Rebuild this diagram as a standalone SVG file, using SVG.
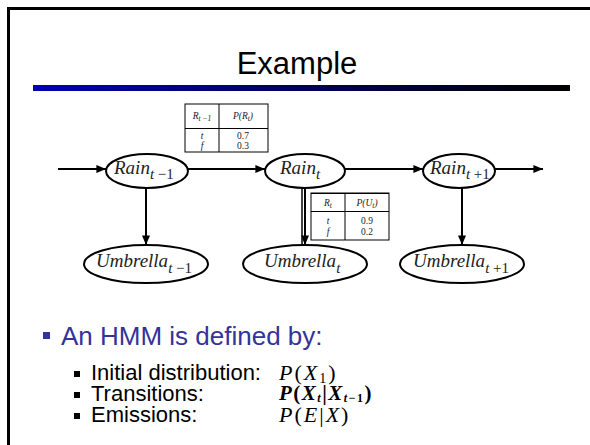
<svg xmlns="http://www.w3.org/2000/svg" width="590" height="445" viewBox="0 0 590 445">
  <defs>
    <linearGradient id="barGrad" x1="0" y1="0" x2="1" y2="0">
      <stop offset="0" stop-color="#0000b4"/>
      <stop offset="1" stop-color="#000000"/>
    </linearGradient>
    <marker id="arrow" viewBox="0 0 12 10" refX="12" refY="5" markerWidth="12" markerHeight="8" markerUnits="userSpaceOnUse" orient="auto">
      <path d="M0,0 L12,5 L0,10 z" fill="#000"/>
    </marker>
    <style>
      .node { fill: #fff; stroke: #000; stroke-width: 2; }
      .edge { stroke: #000; stroke-width: 2; fill: none; marker-end: url(#arrow); }
      .lbl { font-family: "Liberation Serif", "Times New Roman", serif; font-style: italic; font-size: 19px; fill: #222; }
      .sub { font-size: 15px; }
      .up { font-style: normal; }
      .cpt rect, .cpt line { fill: none; stroke: #000; stroke-width: 1; }
      .cpt text { font-family: "Liberation Serif", serif; font-size: 9.5px; fill: #222; text-anchor: middle; }
      .title { font-family: "Liberation Sans", Arial, sans-serif; font-size: 31px; fill: #000; text-anchor: middle; }
      .b1 { font-family: "Liberation Sans", Arial, sans-serif; font-size: 26px; fill: #333399; }
      .b2 { font-family: "Liberation Sans", Arial, sans-serif; font-size: 22px; fill: #000; }
      .math { font-family: "Liberation Serif", "Times New Roman", serif; font-size: 22px; letter-spacing: 2px; fill: #000; }
      .mathb { font-family: "Liberation Serif", "Times New Roman", serif; font-size: 21px; font-weight: bold; letter-spacing: 1.5px; fill: #000; }
      .it { font-style: italic; }
    </style>
  </defs>

  <rect width="590" height="445" fill="#fff"/>
  <!-- slide frame -->
  <line x1="7" y1="8.5" x2="590" y2="8.5" stroke="#000" stroke-width="3"/>
  <line x1="8.5" y1="7" x2="8.5" y2="445" stroke="#000" stroke-width="3"/>

  <!-- title and rule -->
  <text class="title" x="297" y="74">Example</text>
  <rect x="33" y="85" width="537" height="6" fill="url(#barGrad)"/>

  <!-- connectors -->
  <g id="edges">
    <line class="edge" x1="58" y1="169" x2="106" y2="169"/>
    <line class="edge" x1="188" y1="169" x2="265" y2="169"/>
    <line class="edge" x1="345" y1="169" x2="423" y2="169"/>
    <line class="edge" x1="495" y1="169" x2="543" y2="169"/>
    <line class="edge" x1="146" y1="188" x2="146" y2="245"/>
    <line x1="302" y1="188" x2="302" y2="245" stroke="#000" stroke-width="1.5"/>
    <line class="edge" x1="305" y1="188" x2="305" y2="245"/>
    <line class="edge" x1="462" y1="188" x2="462" y2="245"/>
  </g>

  <!-- state nodes -->
  <g id="rain-prev">
    <ellipse class="node" cx="147" cy="171" rx="41" ry="17"/>
    <text class="lbl" x="114" y="174">Rain<tspan class="sub" dy="5">t</tspan><tspan class="sub up"> −1</tspan></text>
  </g>
  <g id="rain-t">
    <ellipse class="node" cx="305" cy="171" rx="40" ry="17"/>
    <text class="lbl" x="280" y="174">Rain<tspan class="sub" dy="5">t</tspan></text>
  </g>
  <g id="rain-next">
    <ellipse class="node" cx="459" cy="171" rx="36" ry="17"/>
    <text class="lbl" x="430" y="174">Rain<tspan class="sub" dy="5">t</tspan><tspan class="sub up"> +1</tspan></text>
  </g>

  <!-- evidence nodes -->
  <g id="umbrella-prev">
    <ellipse class="node" cx="146" cy="264" rx="62" ry="19"/>
    <text class="lbl" x="96" y="267">Umbrella<tspan class="sub" dy="6">t</tspan><tspan class="sub up"> −1</tspan></text>
  </g>
  <g id="umbrella-t">
    <ellipse class="node" cx="305" cy="264" rx="62" ry="19"/>
    <text class="lbl" x="264" y="267">Umbrella<tspan class="sub" dy="6">t</tspan></text>
  </g>
  <g id="umbrella-next">
    <ellipse class="node" cx="462" cy="264" rx="62" ry="19"/>
    <text class="lbl" x="413" y="267">Umbrella<tspan class="sub" dy="6">t</tspan><tspan class="sub up"> +1</tspan></text>
  </g>

  <!-- transition table -->
  <g id="cpt-transition" class="cpt">
    <rect x="185" y="104" width="83" height="48" style="fill:#fff"/>
    <line x1="219" y1="104" x2="219" y2="152"/>
    <line x1="185" y1="128.5" x2="268" y2="128.5" stroke-width="1.5"/>
    <text x="202" y="119" font-style="italic">R<tspan font-size="7.5" dy="2">t −1</tspan></text>
    <text x="243" y="119" font-style="italic">P(R<tspan font-size="7.5" dy="2">t</tspan><tspan dy="-2">)</tspan></text>
    <text x="202" y="139" font-style="italic">t</text>
    <text x="202" y="149" font-style="italic">f</text>
    <text x="243" y="139">0.7</text>
    <text x="243" y="149">0.3</text>
  </g>

  <!-- emission table -->
  <g id="cpt-emission" class="cpt">
    <rect x="311" y="193" width="78" height="47" style="fill:#fff"/>
    <line x1="311" y1="193.5" x2="389" y2="193.5" stroke-width="2"/>
    <line x1="345" y1="193" x2="345" y2="240"/>
    <line x1="311" y1="211.5" x2="389" y2="211.5" stroke-width="1.5"/>
    <text x="328" y="206" font-style="italic">R<tspan font-size="7.5" dy="2">t</tspan></text>
    <text x="367" y="206" font-style="italic">P(U<tspan font-size="7.5" dy="2">t</tspan><tspan dy="-2">)</tspan></text>
    <text x="328" y="224" font-style="italic">t</text>
    <text x="328" y="235" font-style="italic">f</text>
    <text x="367" y="224">0.9</text>
    <text x="367" y="235">0.2</text>
  </g>

  <!-- definition bullets -->
  <rect x="43" y="332" width="7" height="7" fill="#333399"/>
  <text class="b1" x="61" y="345">An HMM is defined by:</text>

  <rect x="74" y="371" width="6" height="6" fill="#000"/>
  <text class="b2" x="91" y="380">Initial distribution:</text>
  <text class="math" x="279" y="380"><tspan class="it">P</tspan>(<tspan class="it">X</tspan><tspan font-size="14" dy="3">1</tspan><tspan dy="-3">)</tspan></text>

  <rect x="74" y="392" width="6" height="6" fill="#000"/>
  <text class="b2" x="91" y="401">Transitions:</text>
  <text class="mathb" x="279" y="400"><tspan class="it">P</tspan>(<tspan class="it">X</tspan><tspan class="it" font-size="12" dy="2">t</tspan><tspan dy="-2">|</tspan><tspan class="it">X</tspan><tspan font-size="12" dy="2"><tspan class="it">t</tspan>−1</tspan><tspan dy="-2">)</tspan></text>

  <rect x="74" y="413" width="6" height="6" fill="#000"/>
  <text class="b2" x="91" y="422">Emissions:</text>
  <text class="math" x="279" y="422"><tspan class="it">P</tspan>(<tspan class="it">E</tspan>|<tspan class="it">X</tspan>)</text>
</svg>
